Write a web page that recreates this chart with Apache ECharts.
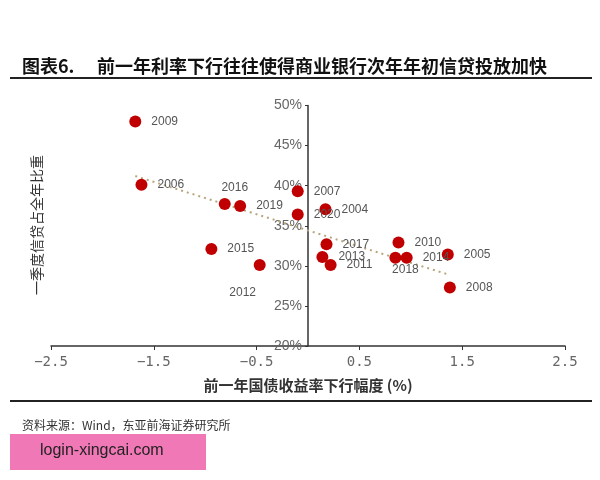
<!DOCTYPE html>
<html>
<head>
<meta charset="utf-8">
<script src="https://cdn.jsdelivr.net/npm/echarts@6/dist/echarts.min.js"></script>
<style>
  html, body { margin: 0; padding: 0; background: #fff; }
  #chart { width: 600px; height: 480px; }
</style>
</head>
<body>
<div id="chart"></div>
<script>
// 年份 / 前一年国债收益率下行幅度(%) / 一季度信贷占全年比重(%)
var years = ['2009', '2006', '2016', '2019', '2007', '2020', '2004', '2017', '2013', '2011',
             '2010', '2018', '2014', '2005', '2008', '2012', '2015'];
var yieldDrop = [-1.68, -1.62, -0.81, -0.66, -0.10, -0.10, 0.17, 0.18, 0.14, 0.22,
                 0.88, 0.85, 0.96, 1.36, 1.38, -0.47, -0.94];
var creditShare = [48.0, 40.1, 37.7, 37.45, 39.3, 36.4, 37.05, 32.7, 31.1, 30.1,
                   32.9, 31.0, 31.0, 31.4, 27.3, 30.1, 32.1];
// 趋势线两端
var trendX = [-1.68, 1.38];
var trendY = [41.2, 28.85];
var xTicks = [-2.5, -1.5, -0.5, 0.5, 1.5, 2.5];

// 个别标签不在右侧
var labelOffsets = {
  '2016': { position: 'top', offset: [10, 6] },
  '2018': { position: 'bottom', offset: [10, -10] },
  '2012': { position: 'bottom', offset: [-17, 6] }
};

var myChart = echarts.init(document.getElementById('chart'));

var points = [];
for (var i = 0; i < years.length; i++) {
  var p = { value: [yieldDrop[i], creditShare[i]], name: years[i] };
  if (labelOffsets[years[i]]) {
    p.label = labelOffsets[years[i]];
  }
  points.push(p);
}

var titleStyle = { fontSize: 18, fontWeight: 'bold', color: '#111', fontFamily: 'Noto Sans CJK SC' };

myChart.setOption({
  backgroundColor: '#fff',
  animation: false,
  title: [{
    text: '图表6.',
    left: 17,
    top: 52,
    textStyle: titleStyle
  }, {
    text: '前一年利率下行往往使得商业银行次年年初信贷投放加快',
    left: 92,
    top: 52,
    textStyle: titleStyle
  }, {
    text: '资料来源：Wind，东亚前海证券研究所',
    left: 17,
    top: 414,
    textStyle: {
      fontSize: 12,
      fontWeight: 'normal',
      color: '#333',
      fontFamily: 'Noto Sans CJK SC'
    }
  }],
  graphic: [
    { type: 'line', shape: { x1: 10, y1: 78, x2: 592, y2: 78 }, style: { stroke: '#222', lineWidth: 2 } },
    { type: 'line', shape: { x1: 10, y1: 401, x2: 592, y2: 401 }, style: { stroke: '#222', lineWidth: 2 } },
    { type: 'rect', shape: { x: 10, y: 434, width: 196, height: 36 }, style: { fill: '#f178b6' } },
    {
      type: 'text', left: 40, top: 443,
      style: { text: 'login-xingcai.com', fontSize: 16, fill: '#222', fontFamily: 'Liberation Sans, Arial' }
    },
    {
      type: 'text', x: 37, y: 225, rotation: Math.PI / 2,
      style: {
        text: '一季度信贷占全年比重', fontSize: 14, fill: '#333',
        fontFamily: 'Noto Sans CJK SC', align: 'center', verticalAlign: 'middle'
      }
    }
  ],
  grid: { left: 51, right: 35, top: 105.5, bottom: 134 },
  xAxis: {
    type: 'value',
    min: -2.5,
    max: 2.5,
    interval: 1,
    name: '前一年国债收益率下行幅度 (%)',
    nameLocation: 'middle',
    nameGap: 32,
    nameTextStyle: { fontSize: 15, fontWeight: 'bold', color: '#333', fontFamily: 'Noto Sans CJK SC' },
    axisLine: { show: true, onZero: false, lineStyle: { color: '#333', width: 1.5 } },
    axisTick: { show: true, length: 4, lineStyle: { color: '#333' } },
    axisLabel: {
      fontSize: 14, color: '#666', margin: 9,
      fontFamily: 'DejaVu Sans Mono',
      formatter: function (v) { return v.toFixed(1).replace('-', '−'); },
      customValues: xTicks
    },
    splitLine: { show: false }
  },
  yAxis: {
    type: 'value',
    min: 20,
    max: 50,
    interval: 5,
    offset: -257,
    axisLine: { show: true, onZero: false, lineStyle: { color: '#333', width: 1.5 } },
    axisTick: { show: true, length: 3, lineStyle: { color: '#333' } },
    axisLabel: {
      fontSize: 14, color: '#666', margin: 6,
      fontFamily: 'Liberation Sans',
      formatter: '{value}%'
    },
    splitLine: { show: false }
  },
  series: [{
    type: 'line',
    data: [[trendX[0], trendY[0]], [trendX[1], trendY[1]]],
    symbol: 'none',
    lineStyle: { color: '#b8a57c', width: 2, type: [2, 4] },
    z: 1
  }, {
    type: 'scatter',
    data: points,
    symbolSize: 12,
    itemStyle: { color: '#c00000', opacity: 1 },
    label: {
      show: true,
      position: 'right',
      distance: 10,
      formatter: '{b}',
      fontSize: 12,
      color: '#555',
      fontFamily: 'Liberation Sans'
    },
    z: 2
  }]
});
</script>
</body>
</html>
